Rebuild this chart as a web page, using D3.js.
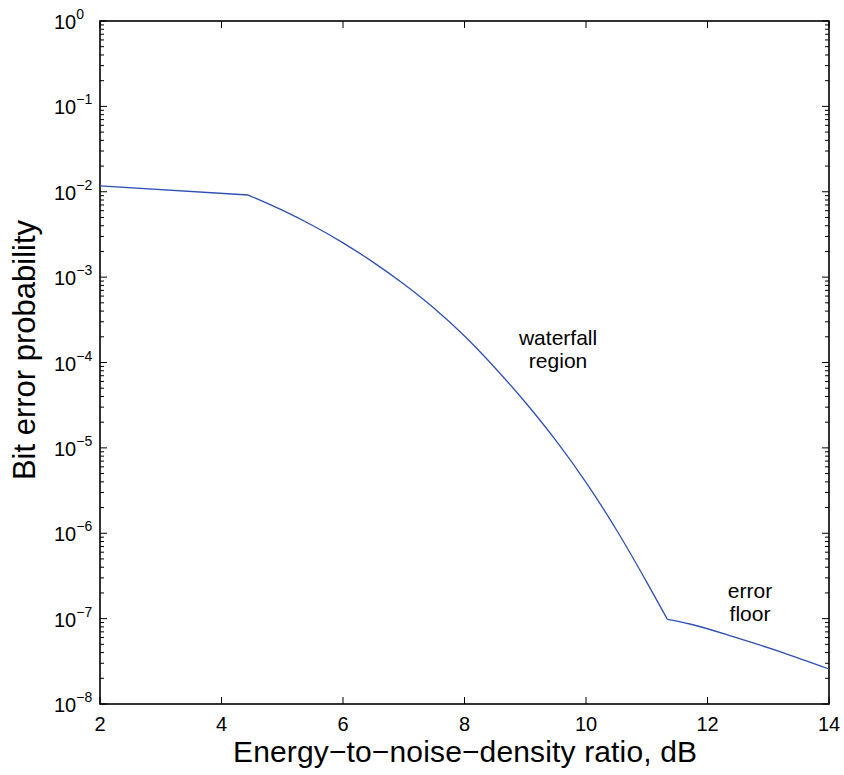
<!DOCTYPE html>
<html>
<head>
<meta charset="utf-8">
<script src="https://cdn.jsdelivr.net/npm/d3@7"></script>
<style>
  html, body { margin: 0; padding: 0; background: #fff; }
  svg { display: block; font-family: "Liberation Sans", Arial, Helvetica, sans-serif; }
</style>
</head>
<body>
<svg id="chart" width="844" height="775"></svg>
<script>
// ---- data ----
const ebnoDb = [2, 4.44, 5.0, 5.5, 6.0, 6.5, 7.0, 7.5, 8.0, 8.5, 9.0, 9.5, 10.0, 10.5, 11.0, 11.34, 11.71, 12.5, 13.25, 14];
const bitErrorProb = [1.17e-2, 9.16e-3, 6.08e-3, 4.02e-3, 2.52e-3, 1.49e-3, 8.3e-4, 4.31e-4, 2.04e-4, 8.69e-5, 3.42e-5, 1.23e-5, 3.94e-6, 1.10e-6, 2.68e-7, 9.8e-8, 8.65e-8, 5.9e-8, 3.98e-8, 2.57e-8];
// indices where the curve has a corner (start of waterfall, start of error floor)
const cornerIndex = [1, 15];
const xTicks = [2, 4, 6, 8, 10, 12, 14];
const yExponents = [0, -1, -2, -3, -4, -5, -6, -7, -8];
const xTitle = "Energy\u2212to\u2212noise\u2212density ratio, dB";
const yTitle = "Bit error probability";
const annotations = [
  { lines: ["waterfall", "region"], x: 9.54, y: 1.6e-4 },
  { lines: ["error", "floor"], x: 12.7, y: 1.74e-7 }
];

// ---- layout ----
const svg = d3.select("#chart");
const L = 100, R = 829, T = 21, B = 704;
const x = d3.scaleLinear().domain([2, 14]).range([L, R]);
const y = d3.scaleLog().domain([1e-8, 1]).range([B, T]);

const majorLen = 7, minorLen = 4;
const g = svg.append("g");

const minorVals = [];
for (let e = -8; e < 0; e++) for (let m = 2; m <= 9; m++) minorVals.push(m * Math.pow(10, e));
const majorVals = yExponents.map(e => Math.pow(10, e));

function hTicks(vals, x0, len) {
  g.append("g").selectAll("line").data(vals).join("line")
    .attr("x1", x0).attr("x2", x0 + len)
    .attr("y1", d => y(d)).attr("y2", d => y(d))
    .attr("stroke", "#000").attr("stroke-width", 1);
}
hTicks(minorVals, L, minorLen);
hTicks(minorVals, R, -minorLen);
hTicks(majorVals, L, majorLen);
hTicks(majorVals, R, -majorLen);

function vTicks(y0, len) {
  g.append("g").selectAll("line").data(xTicks).join("line")
    .attr("x1", d => x(d)).attr("x2", d => x(d))
    .attr("y1", y0).attr("y2", y0 + len)
    .attr("stroke", "#000").attr("stroke-width", 1);
}
vTicks(B, -majorLen);
vTicks(T, majorLen);

// box
g.append("rect").attr("x", L).attr("y", T).attr("width", R - L).attr("height", B - T)
  .attr("fill", "none").attr("stroke", "#000").attr("stroke-width", 1.6);

// x tick labels
g.append("g").selectAll("text").data(xTicks).join("text")
  .attr("x", d => x(d)).attr("y", 731)
  .attr("text-anchor", "middle").attr("font-size", 20).attr("fill", "#000")
  .text(d => d);

// y tick labels 10^e
const yl = g.append("g").selectAll("text").data(yExponents).join("text")
  .attr("x", 54).attr("y", d => y(Math.pow(10, d)) + 8)
  .attr("font-size", 20).attr("fill", "#000");
yl.append("tspan").text("10");
yl.append("tspan").attr("dy", -10).attr("font-size", 14)
  .text(d => d < 0 ? "\u2212" + (-d) : String(d));

// curve, drawn in pieces so the corners stay sharp
const pts = ebnoDb.map((v, i) => [v, bitErrorProb[i]]);
const bounds = [0, ...cornerIndex, pts.length - 1];
const line = d3.line().x(d => x(d[0])).y(d => y(d[1])).curve(d3.curveMonotoneX);
const pieces = [];
for (let k = 0; k < bounds.length - 1; k++) pieces.push(pts.slice(bounds[k], bounds[k + 1] + 1));
g.append("path").attr("d", pieces.map(p => line(p)).join(""))
  .attr("fill", "none").attr("stroke", "#2f4fb5").attr("stroke-width", 1.3)
  .attr("stroke-linejoin", "miter");

// annotations
annotations.forEach(a => {
  const t = g.append("text").attr("font-size", 21).attr("fill", "#000").attr("text-anchor", "middle");
  a.lines.forEach((s, i) => {
    t.append("tspan").attr("x", x(a.x)).attr("y", y(a.y) + i * 23).text(s);
  });
});

// axis titles
svg.append("text").attr("x", 465).attr("y", 762).attr("text-anchor", "middle")
  .attr("font-size", 30).attr("textLength", 464).attr("lengthAdjust", "spacing")
  .attr("fill", "#000").text(xTitle);
svg.append("text").attr("transform", "translate(35,350) rotate(-90)")
  .attr("text-anchor", "middle").attr("font-size", 31)
  .attr("fill", "#000").text(yTitle);
</script>
</body>
</html>
